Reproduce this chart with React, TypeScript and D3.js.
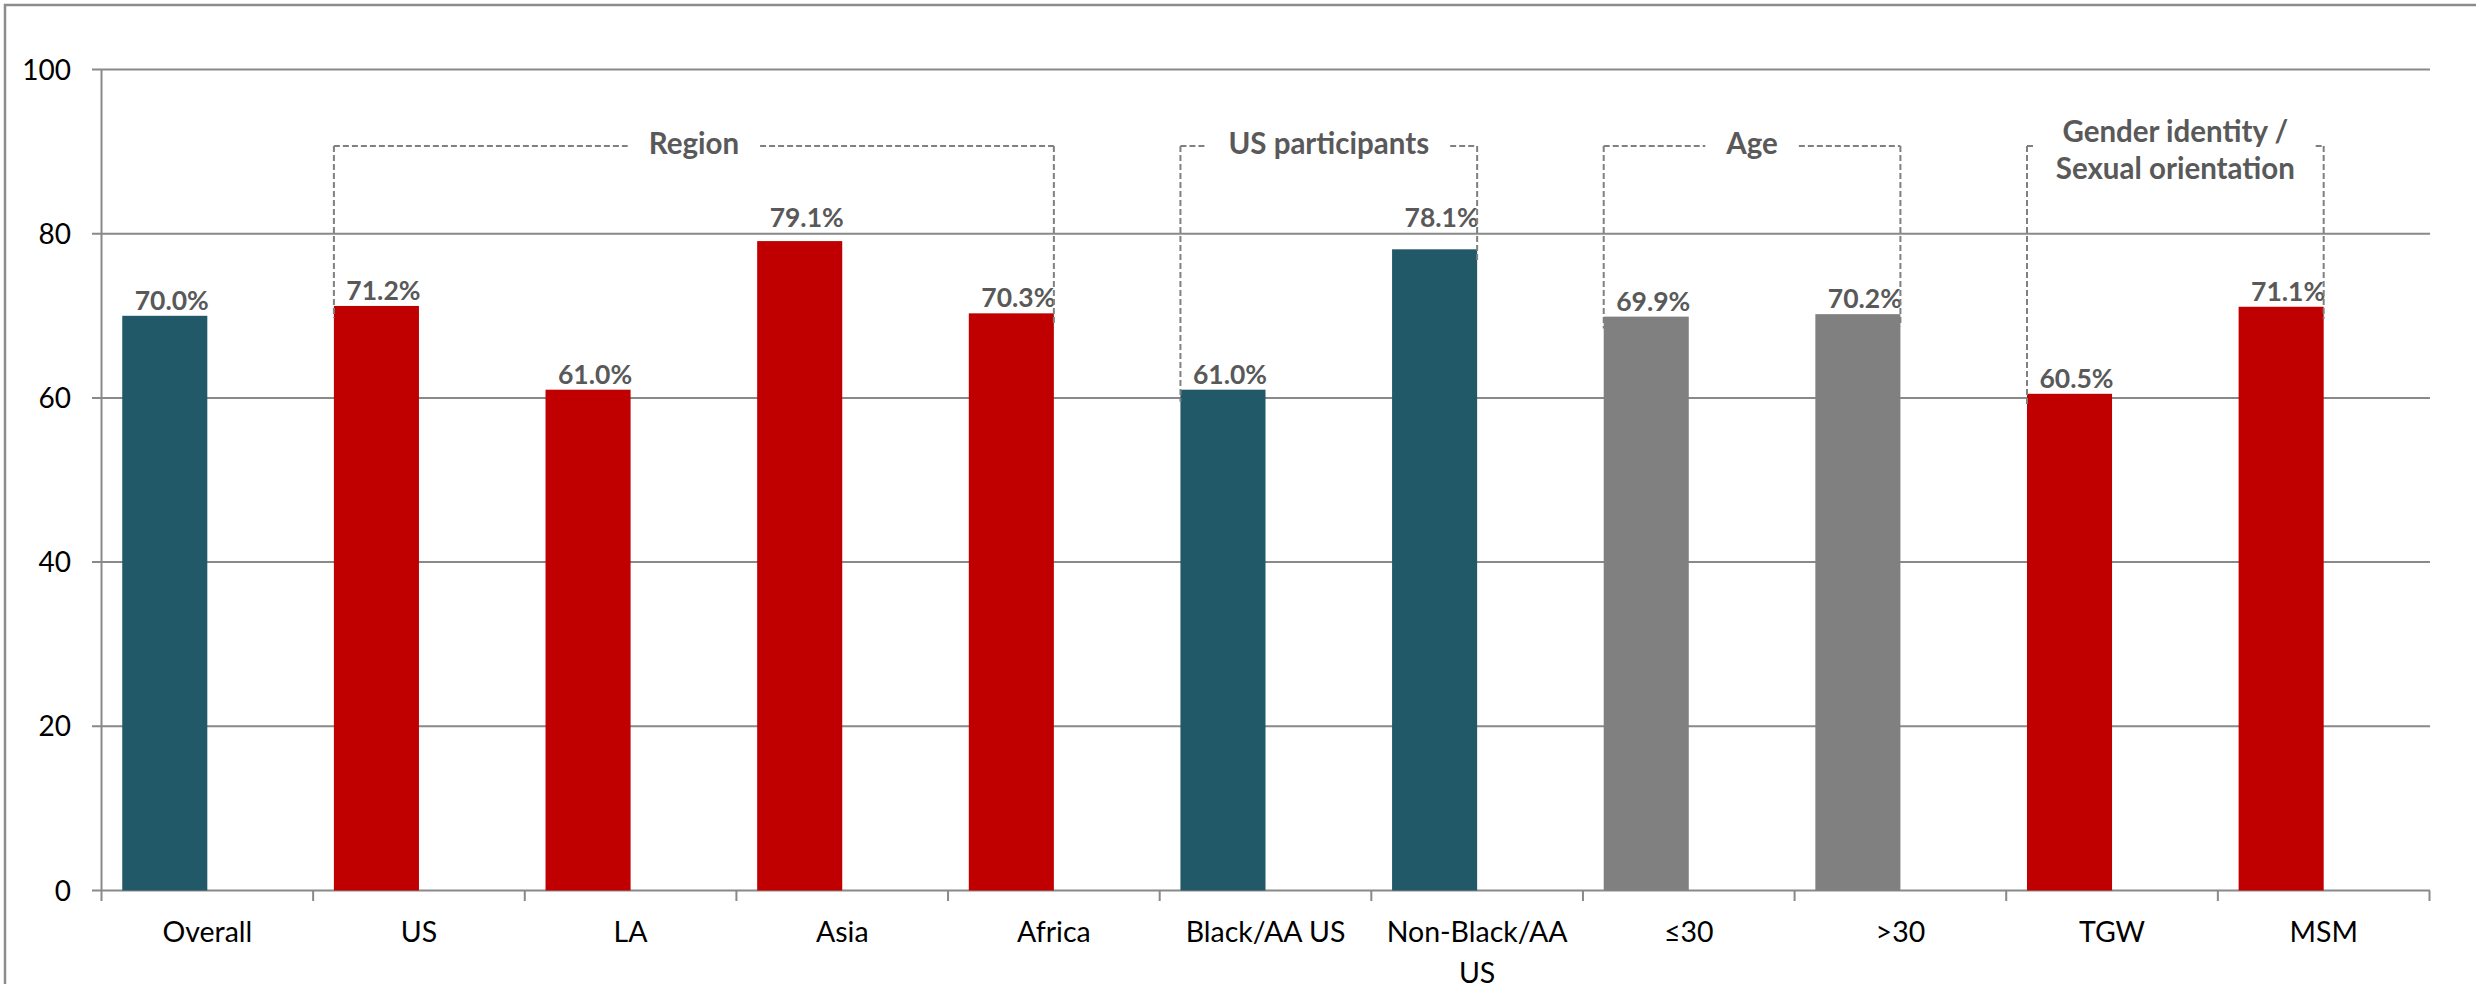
import React, { useEffect, useRef } from "react";
import * as d3 from "d3";

const categories = ["Overall", "US", "LA", "Asia", "Africa", "Black/AA US", "Non-Black/AA US", "≤30", ">30", "TGW", "MSM"];
const categoryLines = [["Overall"], ["US"], ["LA"], ["Asia"], ["Africa"], ["Black/AA US"], ["Non-Black/AA", "US"], ["≤30"], [">30"], ["TGW"], ["MSM"]];
const values = [70.0, 71.2, 61.0, 79.1, 70.3, 61.0, 78.1, 69.9, 70.2, 60.5, 71.1];
const barGroups = ["total", "region", "region", "region", "region", "us", "us", "age", "age", "gender", "gender"];
const groupColors: Record<string, string> = {
  total: "#215968",
  region: "#C00000",
  us: "#215968",
  age: "#808080",
  gender: "#C00000",
};
const yTicks = [0, 20, 40, 60, 80, 100];
const brackets = [
  { lines: ["Region"], from: 1, to: 4 },
  { lines: ["US participants"], from: 5, to: 6 },
  { lines: ["Age"], from: 7, to: 8 },
  { lines: ["Gender identity /", "Sexual orientation"], from: 9, to: 10 },
];

const W = 2476;
const H = 984;
const FONT = "Lato, 'Open Sans', sans-serif";

export default function App() {
  const ref = useRef<SVGSVGElement | null>(null);

  useEffect(() => {
    const svg = d3.select(ref.current);
    svg.selectAll("*").remove();

    const y = d3.scaleLinear().domain([0, 100]).range([890.5, 69.5]);
    const x = d3.scaleBand<string>().domain(categories).range([101.5, 2429.5]).padding(0);
    const bw = x.bandwidth();
    const sub = d3.scaleBand<string>().domain(["value", "empty"]).range([0, bw]).paddingInner(0).paddingOuter(0.244);
    const barW = sub.bandwidth();
    const barX = (i: number) => (x(categories[i]) as number) + (sub("value") as number);

    // outer border
    svg.append("rect")
      .attr("x", 5).attr("y", 5).attr("width", W + 20).attr("height", H + 20)
      .attr("fill", "none").attr("stroke", "#8c8c8c").attr("stroke-width", 2.5);

    // gridlines
    svg.append("g").selectAll("line").data(yTicks).join("line")
      .attr("x1", 92).attr("x2", 2430)
      .attr("y1", (d) => y(d)).attr("y2", (d) => y(d))
      .attr("stroke", "#898989").attr("stroke-width", 2);

    // y axis line
    svg.append("line")
      .attr("x1", 101.5).attr("x2", 101.5).attr("y1", y(100)).attr("y2", 901)
      .attr("stroke", "#898989").attr("stroke-width", 2);

    // x ticks
    const tickXs = categories.map((c) => x(c) as number).concat([x.range()[1]]);
    svg.append("g").selectAll("line").data(tickXs.slice(1)).join("line")
      .attr("x1", (d) => d).attr("x2", (d) => d)
      .attr("y1", y(0)).attr("y2", 901)
      .attr("stroke", "#898989").attr("stroke-width", 2);

    // y tick labels
    svg.append("g").selectAll("text").data(yTicks).join("text")
      .attr("x", 71).attr("y", (d) => y(d) + 10)
      .attr("text-anchor", "end")
      .attr("font-family", FONT).attr("font-size", 28).attr("fill", "#000")
      .text((d) => d);

    // bars
    svg.append("g").selectAll("rect").data(values).join("rect")
      .attr("x", (_d, i) => barX(i))
      .attr("y", (d) => y(d))
      .attr("width", barW)
      .attr("height", (d) => y(0) - y(d))
      .attr("fill", (_d, i) => groupColors[barGroups[i]]);

    // value labels (moved above a gridline when they would overlap it)
    const labelBaseline = (v: number) => {
      let b = y(v) - 6;
      yTicks.forEach((t) => {
        const gy = y(t);
        if (gy < b + 1 && gy > b - 21) b = gy - 7;
      });
      return b;
    };
    svg.append("g").selectAll("text").data(values).join("text")
      .attr("x", (_d, i) => barX(i) + barW / 2 + 7)
      .attr("y", (d) => labelBaseline(d))
      .attr("text-anchor", "middle")
      .attr("font-family", FONT).attr("font-size", 26.5).attr("font-weight", "bold")
      .attr("fill", "#595959")
      .text((d) => d.toFixed(1) + "%");

    // x labels
    const xl = svg.append("g");
    categories.forEach((c, i) => {
      const cx = (x(c) as number) + bw / 2;
      categoryLines[i].forEach((ln, j) => {
        xl.append("text")
          .attr("x", cx).attr("y", 941.5 + j * 41)
          .attr("text-anchor", "middle")
          .attr("font-family", FONT).attr("font-size", 28.5).attr("fill", "#000")
          .text(ln);
      });
    });

    // brackets
    const topY = 146;
    const bg = svg.append("g");
    brackets.forEach((b) => {
      const left = barX(b.from);
      const right = barX(b.to) + barW;
      const cx = (left + right) / 2;
      const single = b.lines.length === 1;
      const texts: SVGTextElement[] = [];
      b.lines.forEach((ln, j) => {
        const t = bg.append("text")
          .attr("x", cx)
          .attr("y", single ? 154 : 141.7 + j * 37.7)
          .attr("text-anchor", "middle")
          .attr("font-family", FONT).attr("font-size", 29.5).attr("font-weight", "bold")
          .attr("fill", "#595959")
          .text(ln);
        texts.push(t.node() as SVGTextElement);
      });
      const tw = d3.max(texts, (t) => t.getComputedTextLength()) || 0;
      const half = Math.min(tw / 2 + 21, (right - left) / 2 - 8);
      const dash = { stroke: "#808080", "stroke-width": 2, "stroke-dasharray": "6,3" };
      const segs = [
        [left, topY, cx - half, topY],
        [cx + half, topY, right, topY],
        [left, topY, left, y(values[b.from]) + 12],
        [right, topY, right, y(values[b.to]) + 12],
      ];
      segs.forEach((s) => {
        const l = bg.append("line").attr("x1", s[0]).attr("y1", s[1]).attr("x2", s[2]).attr("y2", s[3]).attr("fill", "none");
        Object.entries(dash).forEach(([k, v]) => l.attr(k, v as any));
      });
    });
  }, []);

  return (
    <svg
      ref={ref}
      width={W}
      height={H}
      style={{ position: "absolute", left: 0, top: 0, background: "#fff", display: "block" }}
    />
  );
}
